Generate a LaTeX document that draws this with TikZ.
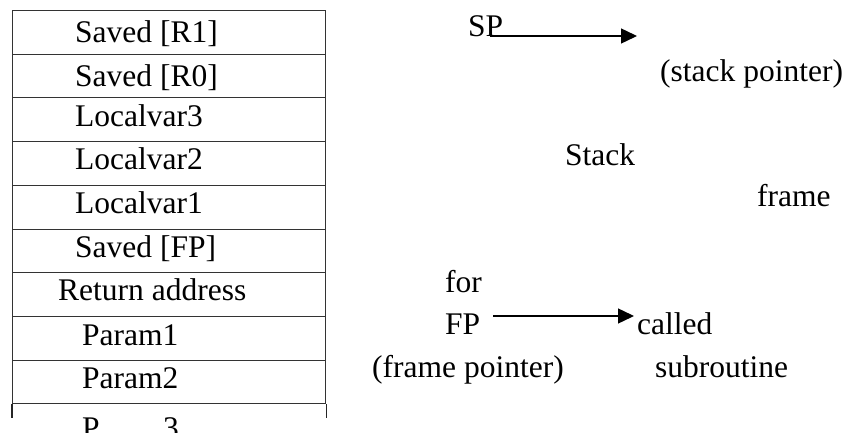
\documentclass[tikz,border=0pt]{standalone}
\usepackage{fontspec}
\setmainfont{Liberation Serif}
\usetikzlibrary{arrows.meta}
\begin{document}
\begin{tikzpicture}[x=1pt,y=-1pt,
  cell/.style={draw=black!80, line width=1.1pt, minimum width=313pt, minimum height=43.7pt, inner sep=0pt, anchor=north west},
  lbl/.style={anchor=base west, inner sep=0pt, font=\fontsize{31.5}{38}\selectfont},
  ptr/.style={line width=1.4pt, -{Triangle[length=16pt,width=15pt]}}]
\useasboundingbox (0,0) rectangle (849,433);
% stack cells
\foreach \i in {0,...,8}{
  \node[cell] (c\i) at (12,{10+43.7*\i}) {};
}
\draw[black!85, line width=1.1pt] (c8.south west) -- ++(0,14);
\draw[black!85, line width=1.1pt] (c8.south east) -- ++(0,14);
% cell texts
\node[lbl] (t0) at (75,43) {Saved [R1]};
\node[lbl] (t1) at (75,87) {Saved [R0]};
\node[lbl] (t2) at (75,127) {Localvar3};
\node[lbl] (t3) at (75,170) {Localvar2};
\node[lbl] (t4) at (75,213) {Localvar1};
\node[lbl] (t5) at (75,257) {Saved [FP]};
\node[lbl] (t6) at (58,300) {Return address};
\node[lbl] (t7) at (82,345) {Param1};
\node[lbl] (t8) at (82,388) {Param2};
\node[lbl] (t9a) at (82,438) {P};
\node[lbl] (t9b) at (163,438) {3};
% right side labels
\node[lbl] (SP) at (468,37) {SP};
\node[lbl] (spl) at (660,82) {(stack pointer)};
\node[lbl] (stk) at (565,165) {Stack};
\node[lbl] (frm) at (757,207) {frame};
\node[lbl] (for) at (445,292) {for};
\node[lbl] (FP) at (445,334) {FP};
\node[lbl] (called) at (637,334) {called};
\node[lbl] (fpl) at (372,377) {(frame pointer)};
\node[lbl] (sub) at (655,377) {subroutine};
% arrows
\coordinate (sps) at (490,36);
\coordinate (spt) at (637,36);
\draw[ptr] (sps) -- (spt);
\coordinate (fps) at (493,316);
\coordinate (fpt) at (634,316);
\draw[ptr] (fps) -- (fpt);
\end{tikzpicture}
\end{document}
